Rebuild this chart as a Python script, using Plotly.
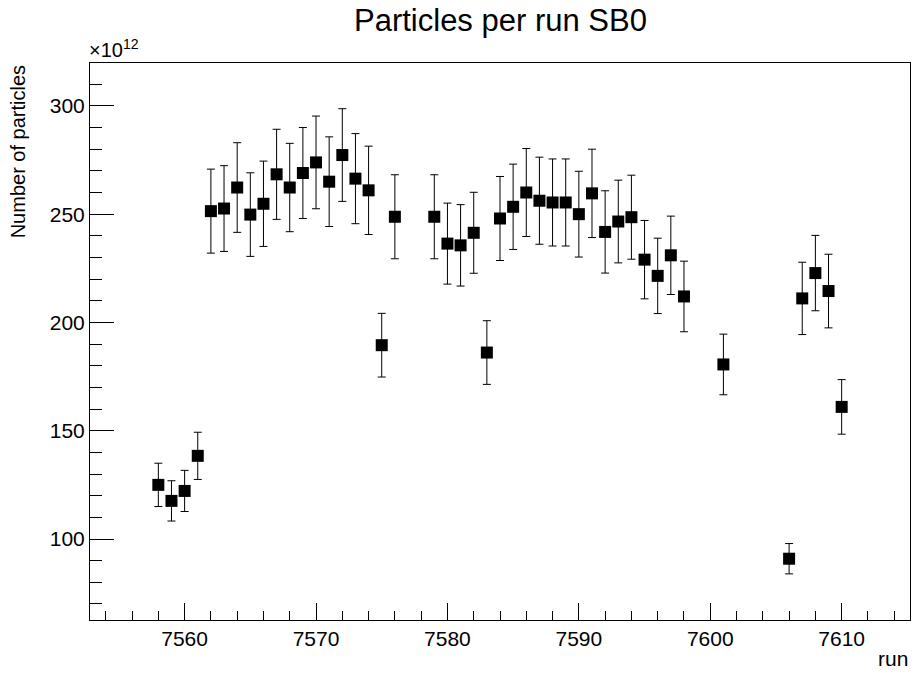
import plotly.graph_objects as go

runs = [7558, 7559, 7560, 7561, 7562, 7563, 7564, 7565, 7566, 7567, 7568, 7569,
        7570, 7571, 7572, 7573, 7574, 7575, 7576, 7579, 7580, 7581, 7582, 7583,
        7584, 7585, 7586, 7587, 7588, 7589, 7590, 7591, 7592, 7593, 7594, 7595,
        7596, 7597, 7598, 7601, 7606, 7607, 7608, 7609, 7610]
particles = [125.0, 117.6, 122.2, 138.4, 251.4, 252.6, 262.3, 249.8, 254.8, 268.4,
             262.3, 269.0, 273.9, 265.0, 277.3, 266.4, 261.0, 189.5, 248.8, 248.8,
             236.4, 235.6, 241.4, 186.1, 248.0, 253.4, 260.0, 256.2, 255.4, 255.4,
             250.0, 259.6, 241.8, 246.6, 248.6, 229.0, 221.5, 231.0, 212.0, 180.6,
             90.9, 211.1, 222.8, 214.5, 161.0]
errors = [10.0, 9.3, 9.5, 10.9, 19.4, 19.8, 20.7, 19.3, 19.7, 20.8,
          20.4, 21.0, 21.4, 20.7, 21.4, 20.8, 20.4, 14.7, 19.4, 19.4,
          18.7, 18.8, 18.7, 14.7, 19.4, 19.7, 20.3, 20.1, 20.1, 20.1,
          19.8, 20.4, 19.0, 19.1, 19.4, 18.1, 17.4, 18.1, 16.3, 14.0,
          7.0, 16.7, 17.4, 17.0, 12.6]

FONT = "Liberation Sans, Arial, Helvetica, sans-serif"

fig = go.Figure()
fig.add_trace(go.Scatter(
    x=runs, y=particles, mode="markers",
    marker=dict(symbol="square", size=12, color="black"),
    error_y=dict(type="data", array=errors, visible=True,
                 color="black", thickness=1, width=4),
    showlegend=False,
))

axis_common = dict(
    showgrid=False, zeroline=False,
    showline=True, linecolor="black", linewidth=1, mirror=True,
    ticks="inside", tickcolor="black", tickwidth=1,
    tickfont=dict(family=FONT, size=21, color="black"),
)

fig.update_xaxes(
    range=[7552.8, 7615.2], tick0=7560, dtick=10, ticklen=17,
    minor=dict(dtick=2, tick0=7560, ticklen=9, ticks="inside", tickcolor="black"),
    **axis_common,
)
fig.update_yaxes(
    range=[62.6, 319.8], tick0=100, dtick=50, ticklen=24,
    minor=dict(dtick=10, tick0=100, ticklen=12, ticks="inside", tickcolor="black"),
    **axis_common,
)

fig.update_layout(
    width=912, height=673,
    margin=dict(l=90, r=2, t=63, b=53),
    paper_bgcolor="white", plot_bgcolor="white",
    font=dict(family=FONT, color="black"),
    annotations=[
        dict(text="Particles per run SB0", xref="paper", yref="paper",
             x=0.5, y=1.111, xanchor="center", yanchor="top",
             showarrow=False, font=dict(family=FONT, size=31, color="black")),
        dict(text="Number of particles", xref="paper", yref="paper",
             x=-0.088, y=1.0, xanchor="center", yanchor="top", textangle=-90,
             showarrow=False, font=dict(family=FONT, size=20, color="black")),
        dict(text="run", xref="paper", yref="paper",
             x=1.0, y=-0.07, xanchor="right", yanchor="middle",
             showarrow=False, font=dict(family=FONT, size=21, color="black")),
        dict(text="×10<sup>12</sup>", xref="paper", yref="paper",
             x=-0.004, y=1.0, xanchor="left", yanchor="bottom",
             showarrow=False, font=dict(family=FONT, size=20, color="black")),
    ],
)

fig.write_html("out.html")
